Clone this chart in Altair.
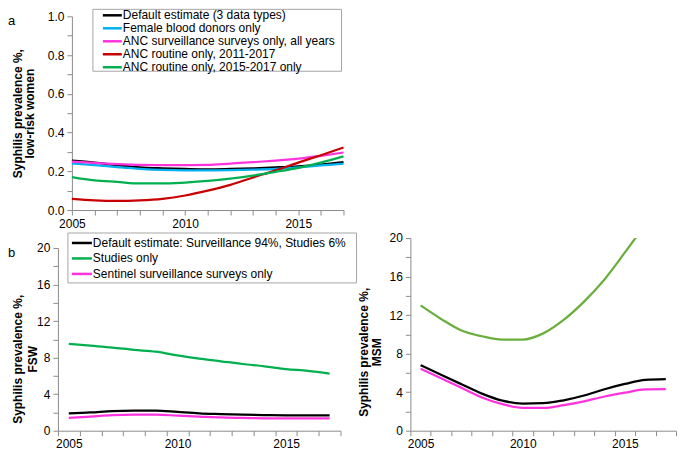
import altair as alt
import pandas as pd

FONT = "Liberation Sans, Arial, Helvetica, sans-serif"
AXIS_GRAY = "#8C8C8C"
BOX_GRAY = "#A6A6A6"

years = list(range(2005, 2018))

# ---- Panel a: low-risk women ----
a_series = ["Default estimate (3 data types)", "Female blood donors only",
            "ANC surveillance surveys only, all years", "ANC routine only, 2011-2017",
            "ANC routine only, 2015-2017 only"]
a_colors = ["#000000", "#00B0F0", "#FF33DD", "#C80000", "#00B050"]
a_default = [0.255, 0.245, 0.232, 0.220, 0.215, 0.212, 0.210, 0.212, 0.215, 0.220, 0.226, 0.235, 0.247]
a_blood = [0.240, 0.232, 0.222, 0.213, 0.207, 0.205, 0.205, 0.206, 0.208, 0.212, 0.220, 0.230, 0.240]
a_anc_surv = [0.250, 0.243, 0.237, 0.233, 0.232, 0.232, 0.233, 0.240, 0.247, 0.255, 0.265, 0.280, 0.297]
a_anc_2011 = [0.058, 0.050, 0.047, 0.050, 0.058, 0.075, 0.100, 0.130, 0.168, 0.205, 0.245, 0.283, 0.323]
a_anc_2015 = [0.170, 0.153, 0.145, 0.137, 0.137, 0.142, 0.150, 0.162, 0.178, 0.197, 0.218, 0.245, 0.277]

# ---- Panel b: FSW ----
b_series = ["Default estimate: Surveillance 94%, Studies 6%", "Studies only",
            "Sentinel surveillance surveys only"]
b_colors = ["#000000", "#00B050", "#FF33DD"]
b_default = [1.90, 2.00, 2.15, 2.20, 2.20, 2.05, 1.90, 1.82, 1.75, 1.70, 1.68, 1.68, 1.68]
b_studies = [9.50, 9.30, 9.10, 8.85, 8.65, 8.25, 7.90, 7.60, 7.30, 7.05, 6.75, 6.55, 6.25]
b_sentinel = [1.40, 1.55, 1.70, 1.75, 1.75, 1.65, 1.55, 1.45, 1.40, 1.35, 1.35, 1.35, 1.35]

# ---- Panel c: MSM ----
c_series = ["Default estimate", "Studies only", "Sentinel surveillance surveys only"]
c_colors = ["#000000", "#6AAF3D", "#FF33DD"]
c_default = [6.80, 5.80, 4.82, 3.85, 3.12, 2.82, 2.85, 3.15, 3.65, 4.30, 4.85, 5.27, 5.34]
c_studies = [13.0, 11.6, 10.4, 9.80, 9.45, 9.45, 10.1, 11.5, 13.4, 15.7, 18.5, 21.4]
c_sentinel = [6.43, 5.44, 4.45, 3.45, 2.75, 2.38, 2.36, 2.65, 3.05, 3.55, 3.95, 4.28, 4.31]

a_y_ticks = [round(i * 0.1, 1) for i in range(11)]
bc_y_ticks = list(range(0, 21, 2))
bc_x_ticks = [y - 0.5 for y in years] + [years[-1] + 0.5] + [2005, 2010, 2015]

# layout (pixels)
A_SHIFT = 14          # panel a plot starts 14px right of panel b plot
A_W, A_H = 272, 194
B_W, ROW_H, B_TOP = 283, 193, 10
C_W = 266


def long_df(series, arrays):
    rows = []
    for k, (name, arr) in enumerate(zip(series, arrays)):
        for yr, v in zip(years, arr):
            rows.append({"year": yr, "value": v, "series": name, "k": k})
    return pd.DataFrame(rows)


one = pd.DataFrame({"k": [0]})


def legend_layers(series, scale, box, sym, tx, row0, step):
    x0, x1, y0, y1 = box
    layers = [alt.Chart(one).mark_rect(fill="white", stroke=BOX_GRAY, strokeWidth=1).encode(
        x=alt.value(x0), x2=alt.value(x1), y=alt.value(y0), y2=alt.value(y1))]
    for i, name in enumerate(series):
        layers.append(alt.Chart(pd.DataFrame({"series": [name]})).mark_rule(strokeWidth=2.5).encode(
            x=alt.value(sym[0]), x2=alt.value(sym[1]), y=alt.value(row0 + i * step),
            color=alt.Color("series:N", scale=scale, legend=None)))
    layers.append(alt.Chart(one).mark_text(align="left", baseline="middle", fontSize=12, font=FONT,
                                            color="black", lineHeight=step).encode(
        x=alt.value(tx), y=alt.value(row0), text=alt.value(series)))
    return layers


def panel_label(txt, x, y):
    return alt.Chart(one).mark_text(text=txt, align="left", baseline="middle", fontSize=13,
                                    font=FONT, color="black").encode(x=alt.value(x), y=alt.value(y))


TITLE1 = "Syphilis prevalence %,"

# ---- Panel a chart ----
scale_a = alt.Scale(domain=a_series, range=a_colors)
df_a = long_df(a_series, [a_default, a_blood, a_anc_surv, a_anc_2011, a_anc_2015])
lines_a = alt.Chart(df_a).mark_line(strokeWidth=2.25, interpolate="monotone").encode(
    x=alt.X("year:Q", scale=alt.Scale(domain=[2005, 2017], range=[A_SHIFT, A_SHIFT + A_W],
                                      nice=False, zero=False),
            axis=alt.Axis(values=years, title=None,
                          labelExpr="datum.value % 5 == 0 ? format(datum.value, 'd') : ''")),
    y=alt.Y("value:Q", scale=alt.Scale(domain=[0, 1], nice=False),
            axis=alt.Axis(values=a_y_ticks, title=[TITLE1, "low-risk women"], offset=-A_SHIFT,
                          labelExpr="round(datum.value * 10) % 2 == 0 ? format(datum.value, '.1f') : ''",
                          titleX=-54, titleBaseline="middle", titleLineHeight=12)),
    color=alt.Color("series:N", scale=scale_a, legend=None),
)
panel_a = alt.layer(
    lines_a,
    *legend_layers(a_series, scale_a, (A_SHIFT + 21, A_SHIFT + 270, -7, 55),
                   (A_SHIFT + 31, A_SHIFT + 50), A_SHIFT + 51, -1, 13),
    panel_label("a", A_SHIFT - 64, 5),
).properties(width=A_SHIFT + A_W, height=A_H)

# ---- Panel b chart ----
scale_b = alt.Scale(domain=b_series, range=b_colors)
df_b = long_df(b_series, [b_default, b_studies, b_sentinel])
x_axis_bc = alt.Axis(values=bc_x_ticks, title=None,
                     labelExpr="datum.value % 5 == 0 ? format(datum.value, 'd') : ''",
                     tickOpacity={"condition": {"test": "datum.value % 1 == 0", "value": 0}, "value": 1})
lines_b = alt.Chart(df_b).mark_line(strokeWidth=2.25, interpolate="monotone").encode(
    x=alt.X("year:Q", scale=alt.Scale(domain=[2004.5, 2017.5], nice=False, zero=False), axis=x_axis_bc),
    y=alt.Y("value:Q", scale=alt.Scale(domain=[0, 20], range=[ROW_H, B_TOP], nice=False),
            axis=alt.Axis(values=bc_y_ticks, title=[TITLE1, "FSW"],
                          labelExpr="datum.value % 4 == 0 ? format(datum.value, 'd') : ''",
                          titleX=-40, titleY=121, titleBaseline="middle", titleLineHeight=15)),
    color=alt.Color("series:N", scale=scale_b, legend=None),
)
panel_b = alt.layer(
    lines_b,
    *legend_layers(b_series, scale_b, (10, 299, -5, 45), (14, 34), 35, 5, 15.5),
    panel_label("b", -50, 15),
).properties(width=B_W, height=ROW_H)

# ---- Panel c chart ----
scale_c = alt.Scale(domain=c_series, range=c_colors)
df_c = long_df(c_series, [c_default, c_studies, c_sentinel])
lines_c = alt.Chart(df_c).mark_line(strokeWidth=2.25, interpolate="monotone", clip=True).encode(
    x=alt.X("year:Q", scale=alt.Scale(domain=[2004.5, 2017.5], nice=False, zero=False), axis=x_axis_bc),
    y=alt.Y("value:Q", scale=alt.Scale(domain=[0, 20], nice=False),
            axis=alt.Axis(values=bc_y_ticks, title=[TITLE1, "MSM"],
                          labelExpr="datum.value % 4 == 0 ? format(datum.value, 'd') : ''",
                          titleX=-47, titleY=114, titleBaseline="middle", titleLineHeight=13)),
    color=alt.Color("series:N", scale=scale_c, legend=None),
)
panel_c = alt.layer(lines_c).properties(width=C_W, height=ROW_H)

row = alt.hconcat(panel_b, panel_c, spacing=0).resolve_scale(color="independent")
chart = alt.vconcat(panel_a, row, spacing=3).resolve_scale(color="independent").properties(
    padding=0
).configure_view(stroke=None).configure_axis(
    domainColor=AXIS_GRAY, tickColor=AXIS_GRAY, labelColor="#000000", labelFont=FONT,
    labelFontSize=12, titleFont=FONT, titleFontSize=12, titleFontWeight="bold",
    titleColor="#000000", grid=False, tickSize=5, labelPadding=3, labelFlush=False,
    labelOverlap=False, domainWidth=1, tickWidth=1,
)

chart.save("out.html", embed_options={"renderer": "svg", "actions": False})
